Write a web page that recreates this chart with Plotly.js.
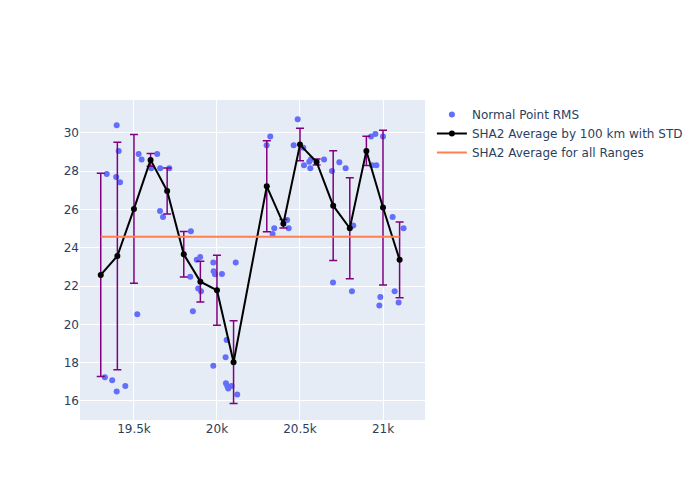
<!DOCTYPE html>
<html>
<head>
<meta charset="utf-8">
<script src="https://cdn.plot.ly/plotly-3.0.1.min.js"></script>
<style>html,body{margin:0;padding:0;background:#fff;}</style>
</head>
<body>
<div id="chart" style="width:700px;height:500px;"></div>
<script>
// Normal point RMS (range in km, RMS)
const rmsRange = [19396, 19408, 19336, 19393, 19416, 19528, 19546, 19640, 19604, 19658, 19713,
  19657, 19675, 19520, 19325, 19369, 19396, 19448,
  19843, 19839, 19878, 19899, 19887, 19904, 19855,
  19978, 19980, 19988, 20030, 20113, 19978, 20052, 20058, 20054, 20062, 20068, 20088, 20122,
  20299, 20321, 20345, 20335, 20423, 20432,
  20486, 20462, 20520, 20524, 20556, 20562, 20566,
  20645, 20693, 20737, 20775, 20699, 20813, 20821,
  20928, 20954, 21000, 20934, 20960, 20984, 20978,
  21058, 21070, 21094, 21124];
const rmsValue = [30.40, 29.06, 27.86, 27.70, 27.42, 28.90, 28.61, 28.90, 28.15, 28.16, 28.16,
  25.92, 25.61, 20.53, 17.24, 17.08, 16.49, 16.78,
  24.86, 22.48, 23.37, 23.52, 21.87, 21.73, 20.68,
  23.23, 22.77, 22.62, 22.63, 23.23, 17.84, 18.28, 19.18, 16.92, 16.78, 16.64, 16.78, 16.33,
  29.36, 29.81, 25.02, 24.72, 25.45, 25.02,
  30.72, 29.36, 29.23, 28.31, 28.50, 28.16, 28.62,
  28.61, 28.01, 28.47, 28.16, 22.18, 21.73, 25.16,
  29.81, 29.95, 29.81, 28.31, 28.31, 21.43, 20.98,
  25.61, 21.73, 21.14, 25.02];

// Average by 100 km bins with standard deviation
const avgRange = [19300, 19400, 19500, 19600, 19700, 19800, 19900, 20000, 20100,
  20300, 20400, 20500, 20600, 20700, 20800, 20900, 21000, 21100];
const avgValue = [22.58, 23.57, 26.03, 28.59, 26.97, 23.66, 22.23, 21.78, 18.02,
  27.21, 25.25, 29.39, 28.48, 26.20, 25.02, 29.06, 26.10, 23.37];
const avgStd = [5.31, 5.94, 3.89, 0.33, 1.20, 1.19, 1.07, 1.83, 2.16,
  2.38, 0.22, 0.85, 0.16, 2.87, 2.64, 0.76, 4.04, 1.98];

// Overall average
const allRange = [19300, 21100];
const allValue = [24.58, 24.58];

const traces = [
  {
    x: rmsRange, y: rmsValue, mode: 'markers', type: 'scatter',
    name: 'Normal Point RMS',
    marker: {color: '#636efa', size: 6}
  },
  {
    x: avgRange, y: avgValue, mode: 'lines+markers', type: 'scatter',
    name: 'SHA2 Average by 100 km with STD',
    line: {color: 'black', width: 2},
    marker: {color: 'black', size: 6},
    error_y: {type: 'data', array: avgStd, visible: true, color: 'purple', thickness: 1.5, width: 4}
  },
  {
    x: allRange, y: allValue, mode: 'lines', type: 'scatter',
    name: 'SHA2 Average for all Ranges',
    line: {color: 'coral', width: 2}
  }
];

const layout = {
  width: 700, height: 500,
  margin: {l: 80, r: 275, t: 100, b: 80},
  paper_bgcolor: 'white',
  plot_bgcolor: '#E5ECF6',
  font: {family: '"DejaVu Sans", verdana, sans-serif', size: 12, color: '#2a3f5f'},
  showlegend: true,
  legend: {x: 1.02, y: 1, xanchor: 'left', yanchor: 'top', font: {size: 12}},
  xaxis: {
    range: [19175, 21253], dtick: 500, tick0: 0,
    gridcolor: 'white', gridwidth: 1, zeroline: false, showline: false,
    ticks: '', automargin: false
  },
  yaxis: {
    range: [15.0, 31.72], dtick: 2, tick0: 0,
    gridcolor: 'white', gridwidth: 1, zeroline: false, showline: false,
    ticks: '', automargin: false
  }
};

Plotly.newPlot('chart', traces, layout, {displayModeBar: false});
</script>
</body>
</html>
